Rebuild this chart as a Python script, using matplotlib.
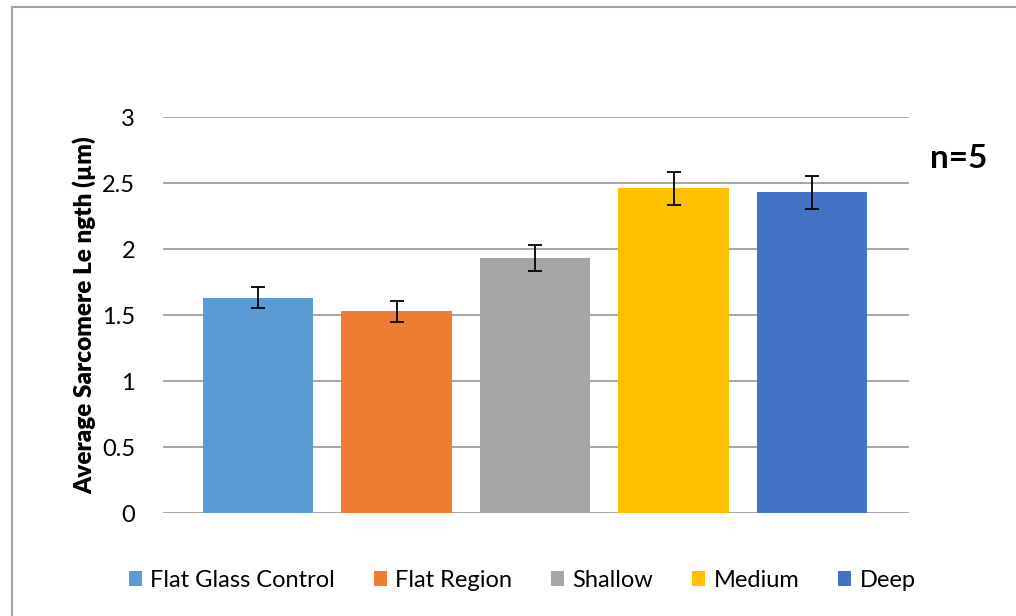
import matplotlib.pyplot as plt
from matplotlib.lines import Line2D
from matplotlib.patches import Patch

plt.rcParams['font.family'] = ['Lato', 'DejaVu Sans']

# data
categories = ['Flat Glass Control', 'Flat Region', 'Shallow', 'Medium', 'Deep']
means = [1.63, 1.53, 1.93, 2.46, 2.43]
errors = [0.08, 0.08, 0.10, 0.125, 0.125]
colors = ['#5b9bd5', '#ed7d31', '#a5a5a5', '#ffc000', '#4472c4']
yticks = [0, 0.5, 1, 1.5, 2, 2.5, 3]
ytick_labels = ['0', '0.5', '1', '1.5', '2', '2.5', '3']

fig = plt.figure(figsize=(10.16, 6.16), dpi=100)
ax = fig.add_axes([0.1604, 0.1672, 0.7343, 0.6428])

x = list(range(len(categories)))
ax.bar(x, means, width=0.795, color=colors, zorder=2)
ax.errorbar(x, means, yerr=errors, fmt='none', ecolor='black',
            elinewidth=1.3, capsize=5, capthick=1.3, zorder=3)

ax.set_xlim(-0.686, 4.70)
ax.set_ylim(0, 3)
ax.set_yticks(yticks)
ax.set_yticklabels(ytick_labels, fontsize=17)
ax.set_xticks([])
ax.tick_params(axis='y', length=0, pad=20)
ax.yaxis.grid(True, color='#a6a6a6', linewidth=1.4, zorder=0)
for s in ax.spines.values():
    s.set_visible(False)

ax.set_ylabel('Average Sarcomere Le ngth (µm)', fontsize=17.5, fontweight='heavy', labelpad=4)

fig.text(0.944, 0.743, 'n=5', fontsize=24, fontweight='bold', ha='center', va='center')

handles = [Patch(facecolor=c) for c in colors]
fig.legend(handles, categories, loc='center', bbox_to_anchor=(0.514, 0.058), ncol=5,
           frameon=False, fontsize=17, handlelength=0.55, handleheight=0.55,
           handletextpad=0.35, columnspacing=1.65)

# chart border (top and left edges visible)
fig.add_artist(Line2D([12 / 1016, 12 / 1016], [0, 1 - 7 / 616], transform=fig.transFigure,
                      color='#a6a6a6', linewidth=1.5))
fig.add_artist(Line2D([12 / 1016, 1], [1 - 7 / 616, 1 - 7 / 616], transform=fig.transFigure,
                      color='#a6a6a6', linewidth=1.5))

fig.savefig('out.png', dpi=100)
